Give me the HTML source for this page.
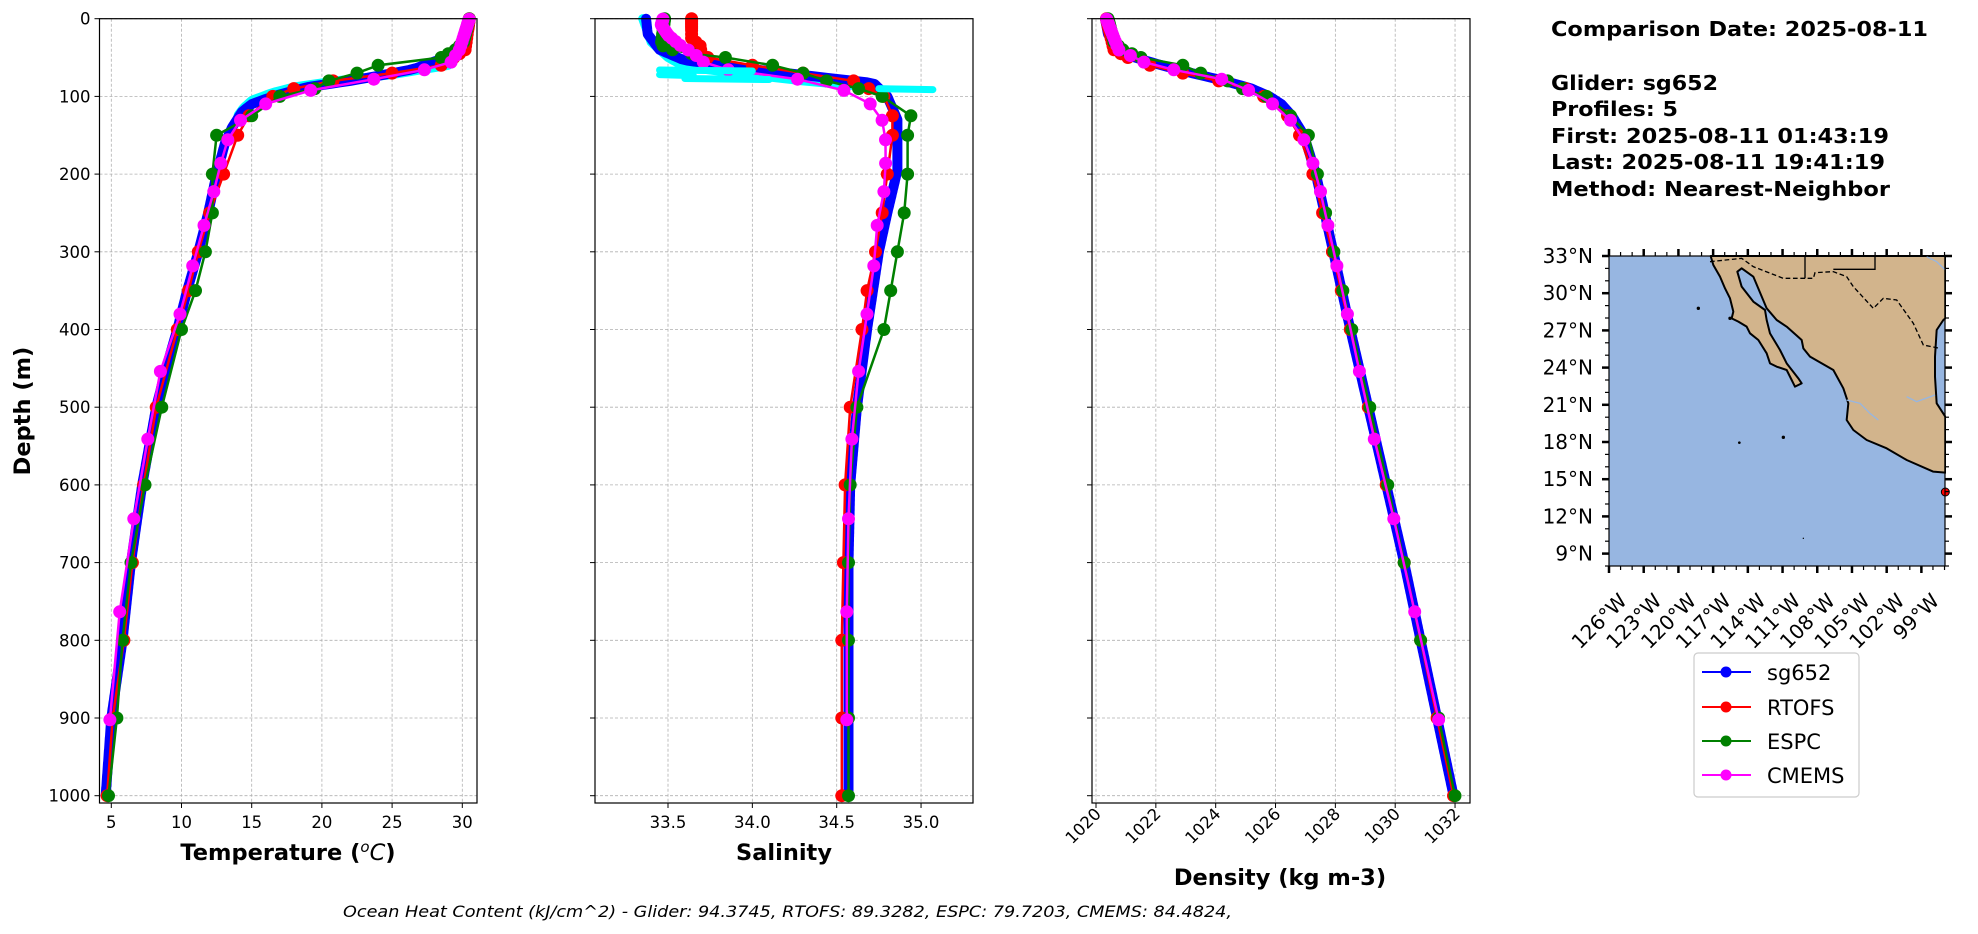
<!DOCTYPE html>
<html><head><meta charset="utf-8"><style>
html,body{margin:0;padding:0;background:#fff;}
svg{display:block;font-family:"DejaVu Sans","Liberation Sans",sans-serif;}
</style></head><body>
<svg id="s" width="1978" height="934" viewBox="0 0 1978 934" xmlns="http://www.w3.org/2000/svg">
<rect width="1978" height="934" fill="#fff"/>
<g id="plots"></g>
<!-- axis labels -->
<text x="288" y="860" font-size="22.5" font-weight="bold" text-anchor="middle">Temperature (<tspan font-style="italic" font-weight="normal" dy="-8" font-size="15">o</tspan><tspan font-style="italic" font-weight="normal" dy="8">C</tspan>)</text>
<text x="784" y="860" font-size="22.5" font-weight="bold" text-anchor="middle">Salinity</text>
<text x="1280" y="885" font-size="22.5" font-weight="bold" text-anchor="middle">Density (kg m-3)</text>
<text transform="translate(30,411) rotate(-90)" font-size="22.5" font-weight="bold" text-anchor="middle">Depth (m)</text>
<text x="343" y="917" font-size="16" font-style="italic" textLength="889" lengthAdjust="spacingAndGlyphs">Ocean Heat Content (kJ/cm^2) - Glider: 94.3745,  RTOFS: 89.3282,  ESPC: 79.7203,  CMEMS: 84.4824,</text>
<!-- info text -->
<g font-size="20" font-weight="bold">
<text x="1551" y="36" textLength="377" lengthAdjust="spacingAndGlyphs">Comparison Date: 2025-08-11</text>
<text x="1551" y="90" textLength="167" lengthAdjust="spacingAndGlyphs">Glider: sg652</text>
<text x="1551" y="116" textLength="127" lengthAdjust="spacingAndGlyphs">Profiles: 5</text>
<text x="1551" y="143" textLength="338" lengthAdjust="spacingAndGlyphs">First: 2025-08-11 01:43:19</text>
<text x="1551" y="169" textLength="334" lengthAdjust="spacingAndGlyphs">Last: 2025-08-11 19:41:19</text>
<text x="1551" y="196" textLength="339" lengthAdjust="spacingAndGlyphs">Method: Nearest-Neighbor</text>
</g>
<!-- map -->
<g id="map">
<rect x="1609" y="256" width="336" height="310" fill="#97b6e1"/>
<g transform="translate(1500,230) scale(0.3333333)">
<polygon fill="#d2b48c" stroke="#000" stroke-width="6" stroke-linejoin="round" points="632,78 640,105 660,140 675,175 690,205 700,245 695,265 715,275 740,290 750,310 775,330 800,370 810,400 830,410 860,420 875,450 885,470 905,460 895,445 860,400 840,360 810,310 800,270 795,240 760,215 725,170 712,125 725,115 760,140 800,235 830,270 860,290 905,330 910,355 930,380 1000,420 1030,475 1045,520 1040,570 1060,600 1100,630 1160,655 1220,690 1300,725 1336,728 1336,560 1310,520 1305,440 1305,380 1310,300 1330,270 1336,265 1336,78"/>
<rect x="1338" y="70" width="20" height="670" fill="#fff"/>
<polyline fill="none" stroke="#000" stroke-width="4" stroke-dasharray="14,8" points="630,95 725,85 760,110 850,145 940,145 945,128 1000,125 1040,140 1060,170 1120,235 1150,205 1190,210 1240,280 1270,345 1320,355"/>
<polyline fill="none" stroke="#000" stroke-width="4" points="915,78 915,145"/>
<polyline fill="none" stroke="#000" stroke-width="4" points="1000,118 1125,118 1125,78"/>
<polyline fill="none" stroke="#97b6e1" stroke-width="4" points="1040,510 1080,520 1110,550 1135,570"/>
<polyline fill="none" stroke="#97b6e1" stroke-width="4" points="1220,500 1250,515 1305,495"/>
<polyline fill="none" stroke="#97b6e1" stroke-width="4" points="1280,80 1310,95 1336,120"/>
<circle cx="595" cy="235" r="5"/><circle cx="690" cy="265" r="5"/><circle cx="718" cy="638" r="4"/><circle cx="850" cy="622" r="5"/><circle cx="910" cy="925" r="2"/>
<circle cx="1336" cy="786" r="12" fill="#f00" stroke="#000" stroke-width="3"/>
</g>
<rect x="1609" y="256" width="336" height="310" fill="none" stroke="#000" stroke-width="1.2"/>
<g id="mapticks"></g>
</g>
<!-- legend -->
<g>
<rect x="1694" y="653" width="165" height="144" rx="4" fill="#fff" stroke="#cccccc" stroke-width="1.2"/>
<g font-size="21">
<line x1="1702" y1="672" x2="1751" y2="672" stroke="#00f" stroke-width="2"/><circle cx="1726" cy="672" r="5.5" fill="#00f"/><text x="1767" y="680">sg652</text>
<line x1="1702" y1="707" x2="1751" y2="707" stroke="#f00" stroke-width="2"/><circle cx="1726" cy="707" r="5.5" fill="#f00"/><text x="1767" y="715">RTOFS</text>
<line x1="1702" y1="741" x2="1751" y2="741" stroke="#008000" stroke-width="2"/><circle cx="1726" cy="741" r="5.5" fill="#008000"/><text x="1767" y="749">ESPC</text>
<line x1="1702" y1="775" x2="1751" y2="775" stroke="#f0f" stroke-width="2"/><circle cx="1726" cy="775" r="5.5" fill="#f0f"/><text x="1767" y="783">CMEMS</text>
</g>
</g>
</svg>
<script>
(function(){
var NS="http://www.w3.org/2000/svg";
function el(p,t,a,txt){var e=document.createElementNS(NS,t);for(var k in a)e.setAttribute(k,a[k]);if(txt!==undefined)e.textContent=txt;p.appendChild(e);return e;}
var plots=document.getElementById('plots');
var Y0=18.7,Y1=803;
function yD(d){return 18.7+0.777*d;}
function interp(tab,d){for(var i=0;i<tab.length-1;i++){if(d<=tab[i+1][0]){var a=tab[i],b=tab[i+1];var f=(d-a[0])/(b[0]-a[0]);return a[1]+f*(b[1]-a[1]);}}return tab[tab.length-1][1];}
var stdD=[0,2,4,6,8,10,12,15,20,25,30,35,40,45,50,60,70,80,90,100,125,150,200,250,300,350,400,500,600,700,800,900,1000];
var cmD=[0.5,1.5,2.6,3.8,5.1,6.4,7.9,9.6,11.4,13.5,15.8,18.5,21.6,25.2,29.4,34.4,40.3,47.4,55.8,65.8,77.9,92.3,109.7,130.7,155.9,186.1,222.5,266.0,318.1,380.2,453.9,541.1,643.6,763.3,902.3];
var glD=[];for(var d=0;d<=1000;d+=2)glD.push(d);
var panels=[
{x0:99.5,x1:477,fx:function(v){return 111.3+14.04*(v-5);},ticks:[5,10,15,20,25,30],lab:function(v){return ""+v;},rot:false,ylabels:true,
 gl:[[0,30.4],[30,30.3],[45,29.8],[55,28],[65,26.5],[72,24.5],[80,22],[88,19],[95,17.5],[100,16.5],[110,15],[120,14.3],[140,13.6],[160,13.1],[200,12.5],[250,11.9],[300,11.2],[350,10.4],[400,9.7],[450,8.9],[500,8.2],[600,7.2],[700,6.4],[800,5.8],[900,5.0],[1000,4.6]],
 cy:[[60,29],[66,27],[72,25],[80,21],[88,18],[95,16.5],[105,15],[115,14.4],[125,14]],
 r:[[0,30.5],[40,30.2],[55,29],[60,28.5],[70,25],[80,20.8],[90,18],[100,16.5],[125,14.8],[150,14],[200,13],[250,12],[300,11.2],[350,10.5],[400,9.7],[500,8.2],[600,7.3],[700,6.5],[800,5.9],[900,5.1],[1000,4.7]],
 g:[[0,30.5],[30,30.1],[40,29.5],[50,28.5],[60,24],[70,22.5],[80,20.5],[90,19.5],[100,17],[125,15],[150,12.5],[200,12.2],[250,12.2],[300,11.7],[350,11],[400,10],[500,8.6],[600,7.4],[700,6.4],[800,5.8],[900,5.4],[1000,4.8]],
 m:[[0,30.5],[40,29.8],[55.8,29.2],[65.8,27.3],[77.9,23.7],[92.3,19.2],[109.7,16],[130.7,14.2],[155.9,13.3],[186.1,12.8],[222.5,12.3],[266,11.6],[318,10.8],[380,9.9],[453.9,8.5],[541,7.6],[643.6,6.6],[763,5.6],[902.3,4.9]]},
{x0:595,x1:973,fx:function(v){return 668+168.7*(v-33.5);},ticks:[33.5,34.0,34.5,35.0],lab:function(v){return v.toFixed(1);},rot:false,
 gl:[[0,33.37],[20,33.38],[40,33.45],[53,33.59],[60,33.8],[70,34.2],[83,34.72],[100,34.8],[130,34.86],[195,34.86],[250,34.8],[300,34.75],[400,34.68],[500,34.62],[600,34.58],[700,34.57],[1000,34.57]],
 cy:[[0,33.35],[30,33.4],[50,33.5],[62,33.6],[70,33.9],[80,34.3],[88,34.7],[95,34.8]],
 r:[[0,33.64],[25,33.64],[35,33.69],[48,33.7],[53,33.79],[60,34.0],[70,34.3],[80,34.6],[100,34.78],[125,34.83],[150,34.83],[200,34.8],[250,34.77],[300,34.73],[350,34.68],[400,34.65],[500,34.58],[600,34.55],[700,34.54],[800,34.53],[1000,34.53]],
 g:[[0,33.48],[34,33.46],[43,33.56],[50,33.84],[60,34.12],[70,34.3],[80,34.44],[90,34.63],[100,34.77],[125,34.94],[150,34.92],[200,34.92],[250,34.9],[300,34.86],[350,34.82],[400,34.78],[500,34.62],[600,34.58],[700,34.57],[1000,34.57]],
 m:[[0.5,33.47],[8,33.46],[21,33.5],[34,33.57],[44,33.65],[56,33.71],[66,33.86],[77,34.25],[92,34.54],[111,34.71],[131,34.77],[157,34.79],[186,34.79],[222,34.78],[266,34.74],[318,34.72],[380,34.68],[453,34.63],[541,34.59],[643,34.57],[763,34.56],[902,34.56]]},
{x0:1092,x1:1470,fx:function(v){return 1096+29.92*(v-1020);},ticks:[1020,1022,1024,1026,1028,1030,1032],lab:function(v){return ""+v;},rot:true,
 gl:[[0,1020.3],[20,1020.4],[40,1020.8],[50,1021.3],[60,1022.2],[70,1023.2],[80,1024.3],[90,1025.2],[100,1025.8],[110,1026.2],[125,1026.55],[150,1026.95],[200,1027.35],[300,1027.93],[400,1028.5],[500,1029.1],[600,1029.7],[700,1030.3],[800,1030.85],[900,1031.4],[1000,1031.95]],
 cy:[],
 r:[[0,1020.35],[40,1020.6],[55,1021.3],[60,1021.8],[70,1022.9],[80,1024.1],[90,1025.0],[100,1025.6],[125,1026.4],[150,1026.8],[200,1027.25],[300,1027.9],[400,1028.5],[500,1029.1],[600,1029.7],[700,1030.3],[800,1030.85],[900,1031.4],[1000,1031.95]],
 g:[[0,1020.4],[30,1020.6],[40,1020.9],[50,1021.5],[60,1022.9],[70,1023.5],[80,1024.4],[90,1024.9],[100,1025.7],[125,1026.5],[150,1027.1],[200,1027.4],[300,1027.95],[400,1028.55],[500,1029.15],[600,1029.75],[700,1030.3],[800,1030.85],[900,1031.45],[1000,1032.0]],
 m:[[0,1020.35],[40,1020.75],[55.8,1021.6],[65.8,1022.6],[77.9,1024.2],[92.3,1025.1],[109.7,1025.9],[130.7,1026.5],[155.9,1026.95],[186,1027.25],[222,1027.5],[266,1027.75],[318,1028.05],[380,1028.4],[453,1028.8],[541,1029.3],[643,1029.95],[763,1030.65],[902.3,1031.45]]}
];
panels.forEach(function(p){
 var g=el(plots,'g',{});
 for(var d=0;d<=1000;d+=100){var y=yD(d);el(g,'line',{x1:p.x0,x2:p.x1,y1:y,y2:y,stroke:'#b0b0b0','stroke-width':0.8,'stroke-dasharray':'3,2'});
  el(g,'line',{x1:p.x0-5,x2:p.x0,y1:y,y2:y,stroke:'#000','stroke-width':1});
  if(p.ylabels)el(g,'text',{x:p.x0-9,y:y+6,'font-size':16.5,'text-anchor':'end'},""+d);}
 p.ticks.forEach(function(v){var x=p.fx(v);el(g,'line',{x1:x,x2:x,y1:Y0,y2:Y1,stroke:'#b0b0b0','stroke-width':0.8,'stroke-dasharray':'3,2'});
  el(g,'line',{x1:x,x2:x,y1:Y1,y2:Y1+5,stroke:'#000','stroke-width':1});
  if(p.rot){el(g,'text',{transform:'translate('+(x+6)+','+(Y1+12)+') rotate(-45)','font-size':16.5,'text-anchor':'end'},p.lab(v));}
  else el(g,'text',{x:x,y:Y1+25,'font-size':16.5,'text-anchor':'middle'},p.lab(v));});
 var pts=glD.map(function(d){return p.fx(interp(p.gl,d)).toFixed(1)+','+yD(d).toFixed(1);}).join(' ');
 if(p.cy.length){var cp=[];for(var d=p.cy[0][0];d<=p.cy[p.cy.length-1][0];d+=2)cp.push(p.fx(interp(p.cy,d)).toFixed(1)+','+yD(d).toFixed(1));
  el(g,'polyline',{points:cp.join(' '),fill:'none',stroke:'#00ffff','stroke-width':9,'stroke-linejoin':'round','stroke-linecap':'round'});}
 el(g,'polyline',{points:pts,fill:'none',stroke:'#0000ff','stroke-width':10,'stroke-linejoin':'round','stroke-linecap':'round'});
 function model(tab,depths,col){var P=depths.map(function(d){return [p.fx(interp(tab,d)),yD(d)];});
  el(g,'polyline',{points:P.map(function(q){return q[0].toFixed(1)+','+q[1].toFixed(1);}).join(' '),fill:'none',stroke:col,'stroke-width':2.5});
  P.forEach(function(q){el(g,'circle',{cx:q[0].toFixed(1),cy:q[1].toFixed(1),r:6.5,fill:col});});}
 model(p.r,stdD,'#ff0000');model(p.g,stdD,'#008000');model(p.m,cmD,'#ff00ff');
 el(g,'rect',{x:p.x0,y:Y0,width:p.x1-p.x0,height:Y1-Y0,fill:'none',stroke:'#000','stroke-width':1.2});
});
var sp=panels[1];
[[66,33.45,34.0],[77,33.6,34.1],[90,34.75,35.07],[72,33.45,33.65]].forEach(function(a){
 el(plots,'line',{x1:sp.fx(a[1]),x2:sp.fx(a[2]),y1:yD(a[0]),y2:yD(a[0])+1,stroke:'#00ffff','stroke-width':7,'stroke-linecap':'round'});});
var mt=document.getElementById('mapticks');
function lx(lon){return 1609+11.57*(lon+126);}
function ly(lat){return 256+12.4*(33-lat);}
for(var lat=8;lat<=33;lat++){var y=ly(lat);var maj=(lat%3==0);var L=maj?7:4;var w=maj?2.5:1.2;
 el(mt,'line',{x1:1609-L,x2:1609,y1:y,y2:y,stroke:'#000','stroke-width':w});
 el(mt,'line',{x1:1945,x2:1945+L,y1:y,y2:y,stroke:'#000','stroke-width':w});
 if(maj&&lat>=9)el(mt,'text',{x:1593,y:y+7,'font-size':20,'text-anchor':'end'},lat+"\u00b0N");}
for(var lon=-126;lon<=-97;lon++){var x=lx(lon);var maj=((lon+126)%3==0);var L=maj?7:4;var w=maj?2.5:1.2;
 el(mt,'line',{x1:x,x2:x,y1:566,y2:566+L,stroke:'#000','stroke-width':w});
 el(mt,'line',{x1:x,x2:x,y1:256-L,y2:256,stroke:'#000','stroke-width':w});
 if(maj)el(mt,'text',{transform:'translate('+(x+19)+',602) rotate(-45)','font-size':20,'text-anchor':'end'},(-lon)+"\u00b0W");}
})();
</script>
</body></html>
